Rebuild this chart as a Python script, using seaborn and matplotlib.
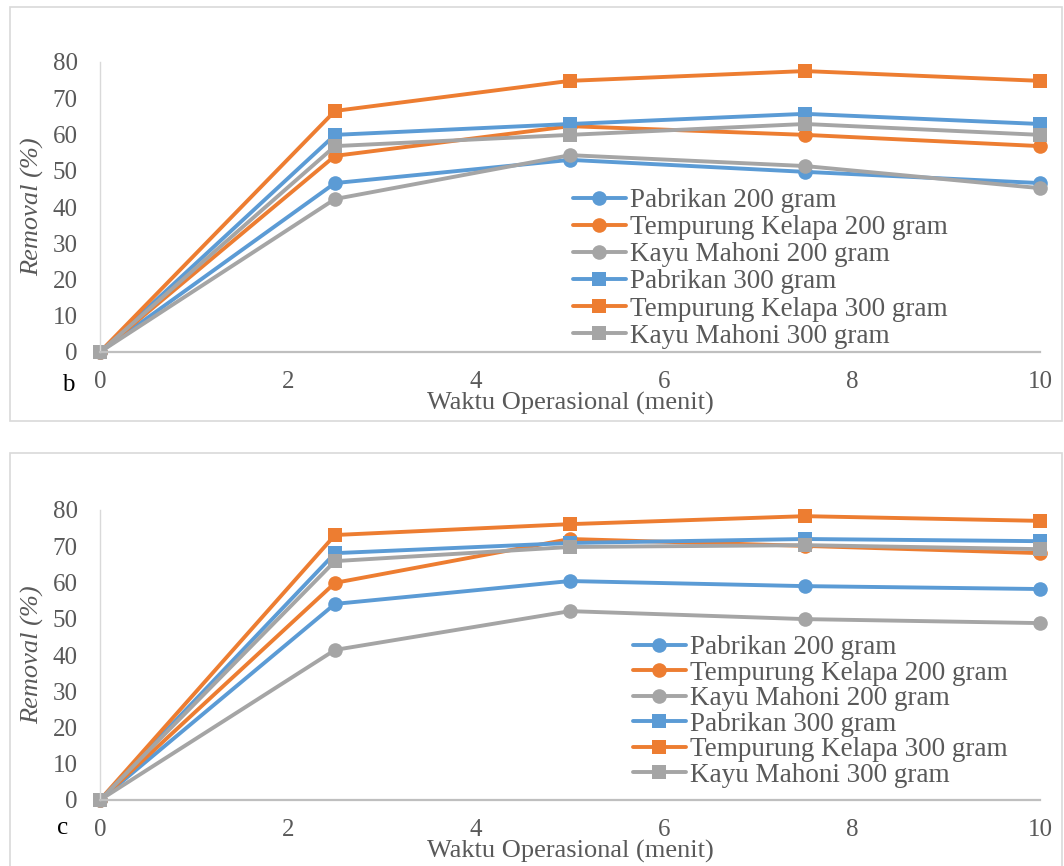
import matplotlib
matplotlib.use("Agg")
import matplotlib.pyplot as plt
import seaborn as sns
import pandas as pd
from matplotlib.patches import Rectangle

waktu = [0, 2.5, 5, 7.5, 10]
seri = ["Pabrikan 200 gram", "Tempurung Kelapa 200 gram", "Kayu Mahoni 200 gram",
        "Pabrikan 300 gram", "Tempurung Kelapa 300 gram", "Kayu Mahoni 300 gram"]

# panel b
b_pabrikan_200 = [0, 46.6, 53.0, 49.7, 46.6]
b_tempurung_200 = [0, 54.1, 62.3, 59.9, 56.8]
b_kayu_200 = [0, 42.2, 54.3, 51.3, 45.2]
b_pabrikan_300 = [0, 59.9, 62.9, 65.7, 62.9]
b_tempurung_300 = [0, 66.5, 74.8, 77.5, 74.8]
b_kayu_300 = [0, 56.8, 59.9, 62.9, 59.9]

# panel c
c_pabrikan_200 = [0, 54.1, 60.4, 59.0, 58.2]
c_tempurung_200 = [0, 59.9, 72.0, 70.1, 68.1]
c_kayu_200 = [0, 41.4, 52.1, 49.9, 48.8]
c_pabrikan_300 = [0, 68.1, 70.9, 72.0, 71.4]
c_tempurung_300 = [0, 73.1, 76.1, 78.3, 77.0]
c_kayu_300 = [0, 65.9, 69.8, 70.3, 69.2]

warna = ["#5B9BD5", "#ED7D31", "#A5A5A5", "#5B9BD5", "#ED7D31", "#A5A5A5"]
penanda = ["o", "o", "o", "s", "s", "s"]
abu = "#595959"


def buat_df(kolom):
    baris = []
    for nama, nilai in zip(seri, kolom):
        for t, v in zip(waktu, nilai):
            baris.append({"waktu": t, "removal": v, "seri": nama})
    return pd.DataFrame(baris)


sns.set_style("white")
plt.rcParams["font.family"] = ["Liberation Serif", "DejaVu Serif"]

fig = plt.figure(figsize=(10.64, 8.66), dpi=100)
W, H = 1064, 866

# kotak panel
for (x0, y0, x1, y1) in [(10, 7, 1062, 421), (10, 453, 1062, 880)]:
    fig.patches.append(Rectangle((x0 / W, 1 - y1 / H), (x1 - x0) / W, (y1 - y0) / H,
                                 transform=fig.transFigure, fill=False,
                                 edgecolor="#d9d9d9", linewidth=1.2))

panel = [
    ("b", [b_pabrikan_200, b_tempurung_200, b_kayu_200, b_pabrikan_300, b_tempurung_300, b_kayu_300],
     62, 352, (68, 385), 403, (573, 188), 0.08),
    ("c", [c_pabrikan_200, c_tempurung_200, c_kayu_200, c_pabrikan_300, c_tempurung_300, c_kayu_300],
     510, 800, (63, 828), 851, (633, 635), 0.02),
]

for huruf, data, atas, bawah, pos_huruf, y_xlabel, pos_leg, spasi in panel:
    ax = fig.add_axes([100 / W, 1 - bawah / H, 940 / W, (bawah - atas) / H])
    df = buat_df(data)
    sns.lineplot(data=df, x="waktu", y="removal", hue="seri", style="seri",
                 palette=warna, markers=penanda, dashes=False, linewidth=2.8,
                 markersize=10.5, markeredgewidth=0, ax=ax, clip_on=False,
                 hue_order=seri, style_order=seri)
    ax.set_xlim(0, 10)
    ax.set_ylim(0, 80)
    ax.set_xticks([0, 2, 4, 6, 8, 10])
    ax.set_yticks(range(0, 81, 10))
    ax.tick_params(axis="both", length=0, labelsize=18, colors=abu)
    ax.tick_params(axis="x", pad=14)
    ax.tick_params(axis="y", pad=16)
    for s in ["top", "right"]:
        ax.spines[s].set_visible(False)
    ax.spines["left"].set_color("#d9d9d9")
    ax.spines["left"].set_linewidth(1)
    ax.spines["bottom"].set_color("#bfbfbf")
    ax.spines["bottom"].set_linewidth(1.6)
    ax.set_xlabel("")
    ax.set_ylabel("Removal (%)", fontsize=19, color=abu, style="italic")
    ax.yaxis.set_label_coords((44 - 100) / 940, 0.5)
    fig.text(570 / W, 1 - y_xlabel / H, "Waktu Operasional (menit)", fontsize=19,
             color=abu, ha="center", va="center")
    fig.text(pos_huruf[0] / W, 1 - pos_huruf[1] / H, huruf, fontsize=18,
             color="black", ha="center", va="center")
    handles, labels = ax.get_legend_handles_labels()
    ax.legend(handles, labels, loc="upper left",
              bbox_to_anchor=((pos_leg[0] - 100) / 940, (bawah - pos_leg[1]) / (bawah - atas)),
              frameon=False, fontsize=19.5, handlelength=1.95, handletextpad=0.15,
              labelspacing=spasi, borderaxespad=0, borderpad=0, labelcolor=abu)

fig.savefig("out.png", dpi=100)
